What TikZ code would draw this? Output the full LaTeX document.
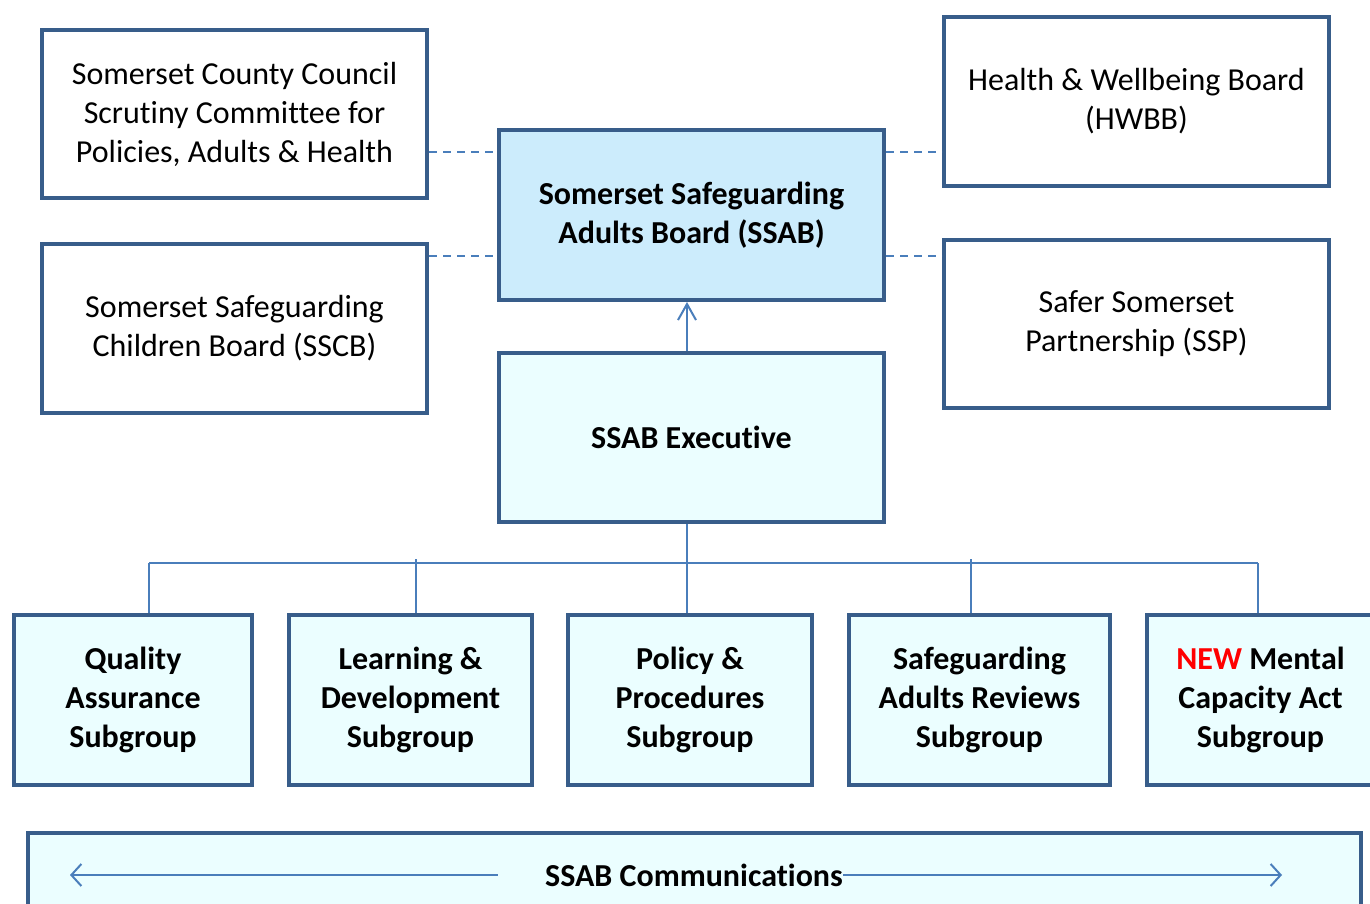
\documentclass[tikz,border=0pt]{standalone}
\usepackage{fontspec}
\setmainfont[Ligatures=NoCommon]{Carlito}
\usetikzlibrary{arrows.meta}
\definecolor{boxline}{RGB}{56,93,138}
\definecolor{conn}{RGB}{74,126,187}
\definecolor{ssabfill}{RGB}{204,236,252}
\definecolor{lightfill}{RGB}{235,254,255}
\definecolor{newred}{RGB}{255,0,0}
\begin{document}
\begin{tikzpicture}[x=1pt,y=-1pt,
  box/.style={draw=boxline,line width=4pt,align=center,inner sep=0pt,
    font=\fontsize{32}{39}\selectfont,fill=white},
  boldbox/.style={box,font=\fontsize{32}{39}\selectfont\bfseries},
  dashline/.style={draw=conn,line width=1.8pt,dash pattern=on 8pt off 6pt},
  treeline/.style={draw=conn,line width=2pt},
  uparrow/.style={draw=conn,line width=2pt,-{Straight Barb[length=16pt,width=18pt,line width=2pt]}},
  commarrow/.style={draw=conn,line width=2.2pt,-{Straight Barb[length=10pt,width=22pt,line width=2pt]}}
]
\useasboundingbox (0,0) rectangle (1370,903);
\fill[white] (0,0) rectangle (1370,903);

% top row boxes
\node[box,minimum width=385pt,minimum height=168pt] (scc) at (234.5,114)
  {Somerset County Council\\Scrutiny Committee for\\Policies, Adults \& Health};
\node[box,minimum width=385pt,minimum height=169pt] (sscb) at (234.5,328.5)
  {Somerset Safeguarding\\Children Board (SSCB)};
\node[boldbox,fill=ssabfill,minimum width=385pt,minimum height=170pt] (ssab) at (691.5,215)
  {Somerset Safeguarding\\Adults Board (SSAB)};
\node[box,minimum width=385pt,minimum height=169pt] (hwbb) at (1136.5,101.5)
  {Health \& Wellbeing Board\\(HWBB)};
\node[box,minimum width=385pt,minimum height=168pt] (ssp) at (1136.5,324)
  {Safer Somerset\\Partnership (SSP)};
\node[boldbox,fill=lightfill,minimum width=385pt,minimum height=169pt] (exec) at (691.5,437.5)
  {SSAB Executive};

% subgroups
\node[boldbox,fill=lightfill,minimum width=238pt,minimum height=170pt] (qa) at (133,700)
  {Quality\\Assurance\\Subgroup};
\node[boldbox,fill=lightfill,minimum width=243pt,minimum height=170pt] (ld) at (410.5,700)
  {Learning \&\\Development\\Subgroup};
\node[boldbox,fill=lightfill,minimum width=244pt,minimum height=170pt] (pp) at (690,700)
  {Policy \&\\Procedures\\Subgroup};
\node[boldbox,fill=lightfill,minimum width=261pt,minimum height=170pt] (sar) at (979.5,700)
  {Safeguarding\\Adults Reviews\\Subgroup};
\node[boldbox,fill=lightfill,minimum width=227pt,minimum height=170pt] (mca) at (1260.5,700)
  {\textcolor{newred}{NEW} Mental\\Capacity Act\\Subgroup};

% communications
\node[box,fill=lightfill,minimum width=1333pt,minimum height=84pt] (comm) at (694.5,875) {};
\node[font=\fontsize{32}{39}\selectfont\bfseries,inner sep=0pt] (commtxt) at (694,875) {SSAB Communications};

% dashed links
\coordinate (d1) at (0,152);
\coordinate (d2) at (0,256);
\draw[dashline] (scc.east |- d1) -- (ssab.west |- d1);
\draw[dashline] (sscb.east |- d2) -- (ssab.west |- d2);
\draw[dashline] (ssab.east |- d1) -- (hwbb.west |- d1);
\draw[dashline] (ssab.east |- d2) -- (ssp.west |- d2);

% exec -> ssab
\draw[uparrow] ([xshift=-4.5pt]exec.north) -- ([xshift=-4.5pt]ssab.south);

% tree
\coordinate (bus) at (0,563);
\coordinate (tq) at (149,0);
\coordinate (tl) at (416,0);
\coordinate (tp) at (687,0);
\coordinate (ts) at (971,0);
\coordinate (tm) at (1258,0);
\draw[treeline] (exec.south -| tp) -- (bus -| tp);
\draw[treeline] (bus -| tq) -- (bus -| tm);
\draw[treeline] (bus -| tq) -- (qa.north -| tq);
\draw[treeline] ([yshift=4pt]bus -| tl) -- (ld.north -| tl);
\draw[treeline] (bus -| tp) -- (pp.north -| tp);
\draw[treeline] ([yshift=4pt]bus -| ts) -- (sar.north -| ts);
\draw[treeline] (bus -| tm) -- (mca.north -| tm);

% communications arrows
\draw[commarrow] ([xshift=-47pt]commtxt.west) -- ([xshift=44pt]comm.west);
\draw[commarrow] (commtxt.east) -- ([xshift=-81pt]comm.east);
\end{tikzpicture}
\end{document}
